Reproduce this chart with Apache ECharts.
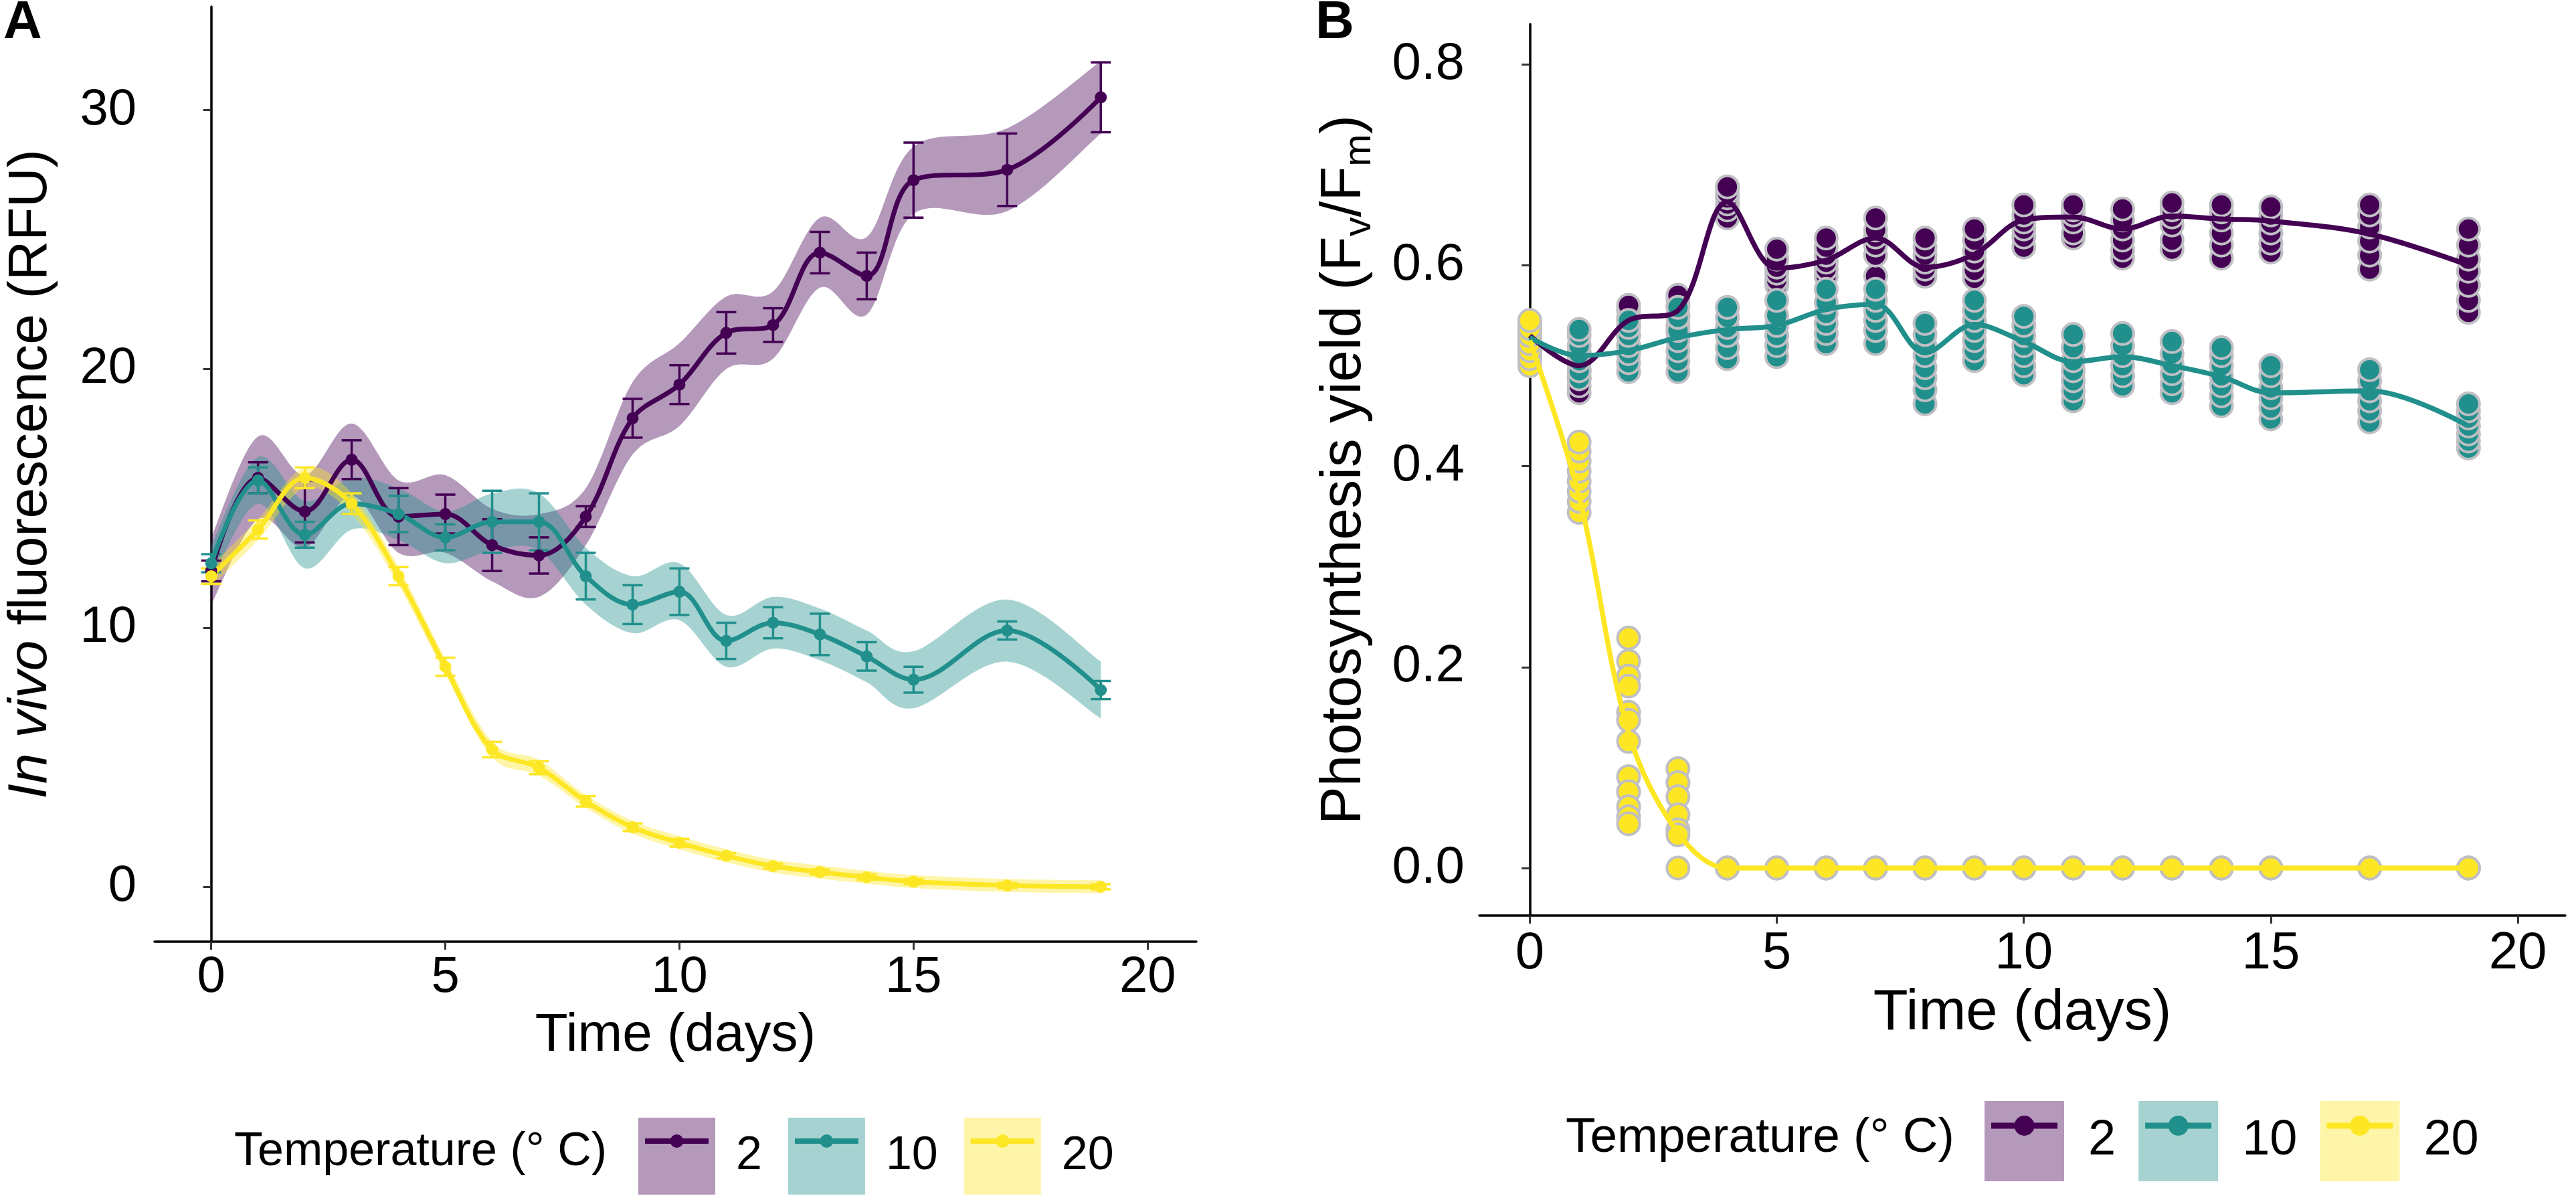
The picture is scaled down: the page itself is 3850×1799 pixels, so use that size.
<!DOCTYPE html>
<html>
<head>
<meta charset="utf-8">
<title>Fluorescence and photosynthesis yield</title>
<script src="https://cdn.jsdelivr.net/npm/echarts@6/dist/echarts.min.js"></script>
<style>
    html, body { margin: 0; padding: 0; background: #fff; }
    #chart { width: 3850px; height: 1799px; }
</style>
</head>
<body>
<div id="chart"></div>
<script>
    // sampling days
    var days = [0, 1, 2, 3, 4, 5, 6, 7, 8, 9, 10, 11, 12, 13, 14, 15, 17, 19];

    // panel A: in vivo fluorescence (mean, error bar half-width, ribbon half-width)
    var rfu2  = [12.2, 15.8, 14.5, 16.5, 14.3, 14.4, 13.2, 12.8, 14.3, 18.1, 19.4, 21.4, 21.7, 24.5, 23.6, 27.3, 27.7, 30.5];
    var err2  = [0.4, 0.6, 1.2, 0.75, 1.1, 0.75, 1.0, 0.7, 0.4, 0.75, 0.75, 0.8, 0.65, 0.8, 0.9, 1.45, 1.4, 1.35];
    var band2 = [1.3, 1.6, 1.4, 1.4, 1.4, 1.5, 1.4, 1.6, 1.1, 1.4, 1.6, 1.4, 1.3, 1.35, 1.5, 1.3, 1.6, 1.4];

    var rfu10  = [12.5, 15.7, 13.6, 14.8, 14.4, 13.5, 14.1, 14.1, 12.0, 10.9, 11.4, 9.5, 10.2, 9.75, 8.9, 8.0, 9.9, 7.6];
    var err10  = [0.35, 0.5, 0.5, 0.4, 0.7, 0.5, 1.2, 1.1, 0.9, 0.75, 0.9, 0.7, 0.6, 0.8, 0.55, 0.5, 0.35, 0.35];
    var band10 = [0.7, 0.9, 1.3, 1.0, 1.0, 1.0, 1.1, 1.1, 1.1, 1.1, 1.1, 1.0, 1.0, 1.0, 1.0, 1.1, 1.2, 1.1];

    var rfu20  = [12.0, 13.8, 15.8, 14.8, 12.0, 8.5, 5.3, 4.6, 3.3, 2.3, 1.7, 1.2, 0.8, 0.57, 0.37, 0.2, 0.05, 0.0];
    var err20  = [0.3, 0.35, 0.4, 0.4, 0.35, 0.35, 0.3, 0.25, 0.2, 0.15, 0.15, 0.1, 0.1, 0.1, 0.1, 0.1, 0.1, 0.1];
    var band20 = [0.4, 0.4, 0.4, 0.4, 0.35, 0.3, 0.3, 0.3, 0.25, 0.25, 0.25, 0.25, 0.25, 0.25, 0.25, 0.25, 0.25, 0.25];

    // panel B: Fv/Fm replicates per day and fitted curve
    var yield2 = [
        [0.51, 0.515, 0.52, 0.525, 0.53, 0.535],
        [0.473, 0.48, 0.488, 0.495, 0.503, 0.513],
        [0.52, 0.53, 0.54, 0.548, 0.555, 0.56],
        [0.532, 0.54, 0.55, 0.56, 0.566, 0.57],
        [0.647, 0.655, 0.661, 0.667, 0.672, 0.678],
        [0.58, 0.585, 0.592, 0.598, 0.606, 0.616],
        [0.589, 0.596, 0.603, 0.61, 0.618, 0.627],
        [0.589, 0.61, 0.62, 0.628, 0.635, 0.647],
        [0.589, 0.596, 0.603, 0.61, 0.618, 0.627],
        [0.587, 0.595, 0.605, 0.614, 0.625, 0.636],
        [0.618, 0.628, 0.636, 0.643, 0.65, 0.66],
        [0.627, 0.632, 0.643, 0.65, 0.655, 0.66],
        [0.607, 0.615, 0.625, 0.636, 0.645, 0.656],
        [0.616, 0.625, 0.64, 0.648, 0.655, 0.662],
        [0.607, 0.62, 0.632, 0.645, 0.653, 0.66],
        [0.613, 0.622, 0.632, 0.642, 0.65, 0.658],
        [0.596, 0.61, 0.624, 0.638, 0.65, 0.66],
        [0.553, 0.565, 0.58, 0.594, 0.606, 0.62, 0.636]
    ];
    var fit2 = [0.53, 0.50, 0.545, 0.555, 0.663, 0.597, 0.605, 0.627, 0.598, 0.611, 0.645, 0.648, 0.636, 0.649, 0.646, 0.644, 0.631, 0.600];

    var yield10 = [
        [0.51, 0.515, 0.52, 0.528, 0.535, 0.54],
        [0.487, 0.495, 0.505, 0.512, 0.52, 0.53, 0.536],
        [0.494, 0.503, 0.512, 0.52, 0.53, 0.538, 0.545],
        [0.494, 0.505, 0.515, 0.525, 0.535, 0.548, 0.558],
        [0.507, 0.518, 0.53, 0.538, 0.548, 0.558],
        [0.509, 0.52, 0.53, 0.54, 0.55, 0.565],
        [0.522, 0.532, 0.542, 0.552, 0.563, 0.576],
        [0.522, 0.535, 0.545, 0.555, 0.565, 0.576],
        [0.462, 0.476, 0.488, 0.498, 0.51, 0.52, 0.531, 0.542],
        [0.505, 0.515, 0.525, 0.535, 0.545, 0.555, 0.565],
        [0.491, 0.5, 0.51, 0.52, 0.53, 0.54, 0.549],
        [0.465, 0.475, 0.485, 0.495, 0.505, 0.518, 0.531],
        [0.48, 0.49, 0.5, 0.51, 0.52, 0.532],
        [0.473, 0.482, 0.492, 0.502, 0.512, 0.524],
        [0.46, 0.47, 0.48, 0.49, 0.5, 0.51, 0.518],
        [0.447, 0.458, 0.468, 0.478, 0.49, 0.5],
        [0.444, 0.455, 0.465, 0.475, 0.485, 0.496],
        [0.418, 0.425, 0.432, 0.44, 0.448, 0.455, 0.462]
    ];
    var fit10 = [0.528, 0.51, 0.515, 0.528, 0.536, 0.54, 0.556, 0.561, 0.513, 0.541, 0.524, 0.504, 0.509, 0.500, 0.489, 0.473, 0.475, 0.440];

    var yield20 = [
        [0.50, 0.507, 0.515, 0.522, 0.53, 0.537, 0.545],
        [0.354, 0.365, 0.375, 0.385, 0.395, 0.405, 0.415, 0.424],
        [0.229, 0.206, 0.191, 0.181, 0.155, 0.147, 0.126, 0.091, 0.076, 0.061, 0.051, 0.044],
        [0.099, 0.085, 0.071, 0.053, 0.038, 0.033, 0.0],
        [0, 0, 0], [0, 0, 0], [0, 0, 0], [0, 0, 0], [0, 0, 0], [0, 0, 0], [0, 0, 0],
        [0, 0, 0], [0, 0, 0], [0, 0, 0], [0, 0, 0], [0, 0, 0], [0, 0, 0], [0, 0, 0]
    ];
    var fit20 = [0.525, 0.37, 0.135, 0.035, 0, 0, 0, 0, 0, 0, 0, 0, 0, 0, 0, 0, 0, 0];

    var temps = ['2', '10', '20'];
    var xTicks = [0, 5, 10, 15, 20];
    var rfuTicks = [0, 10, 20, 30];
    var yieldTicks = [0, 0.2, 0.4, 0.6, 0.8];

    var colors = ['#440154', '#21908C', '#FDE725'];
    var fills = ['rgba(68,1,84,0.4)', 'rgba(33,144,140,0.4)', 'rgba(253,231,37,0.4)'];
    var F = 'Liberation Sans, Arial, sans-serif';

    function pairs(ys) {
        return days.map(function (d, i) { return [d, ys[i]]; });
    }
    function spans(m, e) {
        return days.map(function (d, i) { return [d, m[i] - e[i], m[i] + e[i]]; });
    }
    function reps(r) {
        var out = [];
        days.forEach(function (d, i) {
            r[i].forEach(function (v) { out.push([d, v]); });
        });
        return out;
    }

    // sample a Catmull-Rom curve through pixel points
    function smoothPts(p) {
        var out = [p[0]];
        var n = p.length;
        for (var i = 0; i < n - 1; i++) {
            var p0 = p[Math.max(i - 1, 0)], p1 = p[i], p2 = p[i + 1], p3 = p[Math.min(i + 2, n - 1)];
            var c1 = [p1[0] + (p2[0] - p0[0]) / 6, p1[1] + (p2[1] - p0[1]) / 6];
            var c2 = [p2[0] - (p3[0] - p1[0]) / 6, p2[1] - (p3[1] - p1[1]) / 6];
            for (var s = 1; s <= 16; s++) {
                var t = s / 16, u = 1 - t;
                out.push([
                    u * u * u * p1[0] + 3 * u * u * t * c1[0] + 3 * u * t * t * c2[0] + t * t * t * p2[0],
                    u * u * u * p1[1] + 3 * u * u * t * c1[1] + 3 * u * t * t * c2[1] + t * t * t * p2[1]
                ]);
            }
        }
        return out;
    }

    var meansA = [rfu2, rfu10, rfu20];
    var errsA = [err2, err10, err20];
    var bandsA = [band2, band10, band20];
    var repsB = [yield2, yield10, yield20];
    var fitsB = [fit2, fit10, fit20];

    var series = [];
    // ribbons
    temps.forEach(function (t, k) {
        var rows = spans(meansA[k], bandsA[k]);
        series.push({
            name: t + ' band', type: 'custom', xAxisIndex: 0, yAxisIndex: 0,
            encode: {x: 0, y: [1, 2]}, silent: true,
            data: rows,
            renderItem: function (params, api) {
                if (params.dataIndex !== 0) return null;
                var up = rows.map(function (r) { return api.coord([r[0], r[2]]); });
                var lo = rows.map(function (r) { return api.coord([r[0], r[1]]); });
                var pts = smoothPts(up).concat(smoothPts(lo).reverse());
                return {type: 'polygon', shape: {points: pts}, style: {fill: fills[k]}};
            }
        });
    });
    // mean lines with points
    temps.forEach(function (t, k) {
        series.push({
            name: t, type: 'line', xAxisIndex: 0, yAxisIndex: 0,
            smooth: 0.35, symbol: 'circle', symbolSize: 18, showSymbol: true,
            itemStyle: {color: colors[k]},
            lineStyle: {color: colors[k], width: 7},
            data: pairs(meansA[k])
        });
    });
    // error bars
    temps.forEach(function (t, k) {
        var col = colors[k];
        series.push({
            name: t + ' err', type: 'custom', xAxisIndex: 0, yAxisIndex: 0,
            encode: {x: 0, y: [1, 2]},
            data: spans(meansA[k], errsA[k]),
            renderItem: function (params, api) {
                var x = api.value(0);
                var lo = api.coord([x, api.value(1)]);
                var hi = api.coord([x, api.value(2)]);
                var w = 15;
                var st = {stroke: col, lineWidth: 3.5};
                return {
                    type: 'group',
                    children: [
                        {type: 'line', shape: {x1: lo[0], y1: lo[1], x2: hi[0], y2: hi[1]}, style: st},
                        {type: 'line', shape: {x1: lo[0] - w, y1: lo[1], x2: lo[0] + w, y2: lo[1]}, style: st},
                        {type: 'line', shape: {x1: hi[0] - w, y1: hi[1], x2: hi[0] + w, y2: hi[1]}, style: st}
                    ]
                };
            }
        });
    });
    // panel B points
    temps.forEach(function (t, k) {
        series.push({
            name: t + ' pts', type: 'scatter', xAxisIndex: 1, yAxisIndex: 1,
            symbolSize: 33,
            itemStyle: {color: colors[k], borderColor: '#bfbfc4', borderWidth: 4, opacity: 1},
            data: reps(repsB[k])
        });
    });
    // panel B fitted curves
    temps.forEach(function (t, k) {
        series.push({
            name: t + ' fit', type: 'line', xAxisIndex: 1, yAxisIndex: 1,
            smooth: 0.35, symbol: 'none',
            lineStyle: {color: colors[k], width: 7.5},
            data: pairs(fitsB[k])
        });
    });

    function xAxisCfg(grid, min, max, fs, margin, gap, nfs) {
        return {
            type: 'value', gridIndex: grid, min: min, max: max,
            name: 'Time (days)', nameLocation: 'middle', nameGap: gap,
            nameTextStyle: {fontSize: nfs, color: '#000', fontFamily: F},
            axisLine: {onZero: false, lineStyle: {color: '#000', width: 3.5}},
            axisTick: {length: 12, customValues: xTicks, lineStyle: {color: '#333', width: 3}},
            axisLabel: {fontSize: fs, color: '#000', fontFamily: F, margin: margin, customValues: xTicks},
            splitLine: {show: false}
        };
    }

    function legendPair(left, top, w, h, gap, pad, fs, dotR, barH) {
        var barW = w - 20;
        var c = barW / 2;
        var icon = 'path://M0,' + (-barH / 2) + 'L' + barW + ',' + (-barH / 2) + 'L' + barW + ',' + (barH / 2) +
            'L0,' + (barH / 2) + 'Z M' + (c - dotR) + ',0A' + dotR + ',' + dotR + ' 0 1,1 ' + (c + dotR) +
            ',0A' + dotR + ',' + dotR + ' 0 1,1 ' + (c - dotR) + ',0Z';
        var base = {
            orient: 'horizontal', top: top, padding: 0, itemHeight: h,
            selectedMode: false, symbolKeepAspect: true
        };
        var bg = Object.assign({}, base, {
            left: left, itemWidth: w, itemGap: gap,
            textStyle: {fontSize: fs, color: '#000', fontFamily: F, padding: [0, 0, 0, pad]},
            data: temps.map(function (t, k) {
                return {name: t, icon: 'rect', itemStyle: {color: fills[k], borderWidth: 0}};
            })
        });
        var fg = Object.assign({}, base, {
            left: left + 10, itemWidth: barW, itemGap: gap + 20,
            textStyle: {fontSize: fs, color: 'rgba(0,0,0,0)', fontFamily: F, padding: [0, 0, 0, pad]},
            data: temps.map(function (t, k) {
                return {name: t, icon: icon, itemStyle: {color: colors[k], borderWidth: 0}};
            })
        });
        return [bg, fg];
    }

    var myChart = echarts.init(document.getElementById('chart'));
    var option = {
        animation: false,
        backgroundColor: '#fff',
        title: [
            {text: 'A', left: 5, top: -5, padding: 0, textStyle: {fontSize: 80, fontWeight: 'bold', color: '#000', fontFamily: F}},
            {text: 'B', left: 1966, top: -5, padding: 0, textStyle: {fontSize: 80, fontWeight: 'bold', color: '#000', fontFamily: F}},
            {text: 'Temperature (° C)', left: 350, top: 1687, padding: 0, textStyle: {fontSize: 70, fontWeight: 'normal', color: '#000', fontFamily: F}},
            {text: 'Temperature (° C)', left: 2340, top: 1664, padding: 0, textStyle: {fontSize: 73, fontWeight: 'normal', color: '#000', fontFamily: F}}
        ],
        legend: legendPair(954, 1670, 115, 115, 39, 26, 70, 10, 8)
            .concat(legendPair(2966, 1645, 119, 120, 34, 31, 74, 15, 9)),
        grid: [
            {left: 231, top: 10, width: 1557, height: 1397, containLabel: false},
            {left: 2211, top: 36, width: 1623, height: 1332, containLabel: false}
        ],
        xAxis: [
            xAxisCfg(0, -1.21, 21.04, 76, 16, 101, 80),
            xAxisCfg(1, -1.02, 20.96, 78, 18, 104, 85)
        ],
        yAxis: [
            {
                type: 'value', gridIndex: 0, min: -2.12, max: 34.0,
                name: '{i|In vivo} fluorescence (RFU)', nameLocation: 'middle', nameGap: 144,
                nameTextStyle: {
                    fontSize: 82, color: '#000', fontFamily: F,
                    rich: {i: {fontSize: 82, color: '#000', fontFamily: F, fontStyle: 'italic'}}
                },
                axisLine: {lineStyle: {color: '#000', width: 3.5}},
                axisTick: {length: 12, customValues: rfuTicks, lineStyle: {color: '#333', width: 3}},
                axisLabel: {fontSize: 76, color: '#000', fontFamily: F, margin: 27, customValues: rfuTicks},
                splitLine: {show: false}
            },
            {
                type: 'value', gridIndex: 1, min: -0.0473, max: 0.840,
                name: 'Photosynthesis yield (F{s|v}/F{s|m})', nameLocation: 'middle', nameGap: 150,
                nameTextStyle: {
                    fontSize: 85, color: '#000', fontFamily: F,
                    rich: {s: {fontSize: 58, color: '#000', fontFamily: F, verticalAlign: 'bottom', padding: [44, 0, 0, 0]}}
                },
                axisLine: {lineStyle: {color: '#000', width: 3.5}},
                axisTick: {length: 12, customValues: yieldTicks, lineStyle: {color: '#333', width: 3}},
                axisLabel: {
                    fontSize: 78, color: '#000', fontFamily: F, margin: 22, customValues: yieldTicks,
                    formatter: function (v) { return v.toFixed(1); }
                },
                splitLine: {show: false}
            }
        ],
        series: series
    };

    myChart.setOption(option);
    window.onresize = function () {
        myChart.resize();
    };
</script>
</body>
</html>
